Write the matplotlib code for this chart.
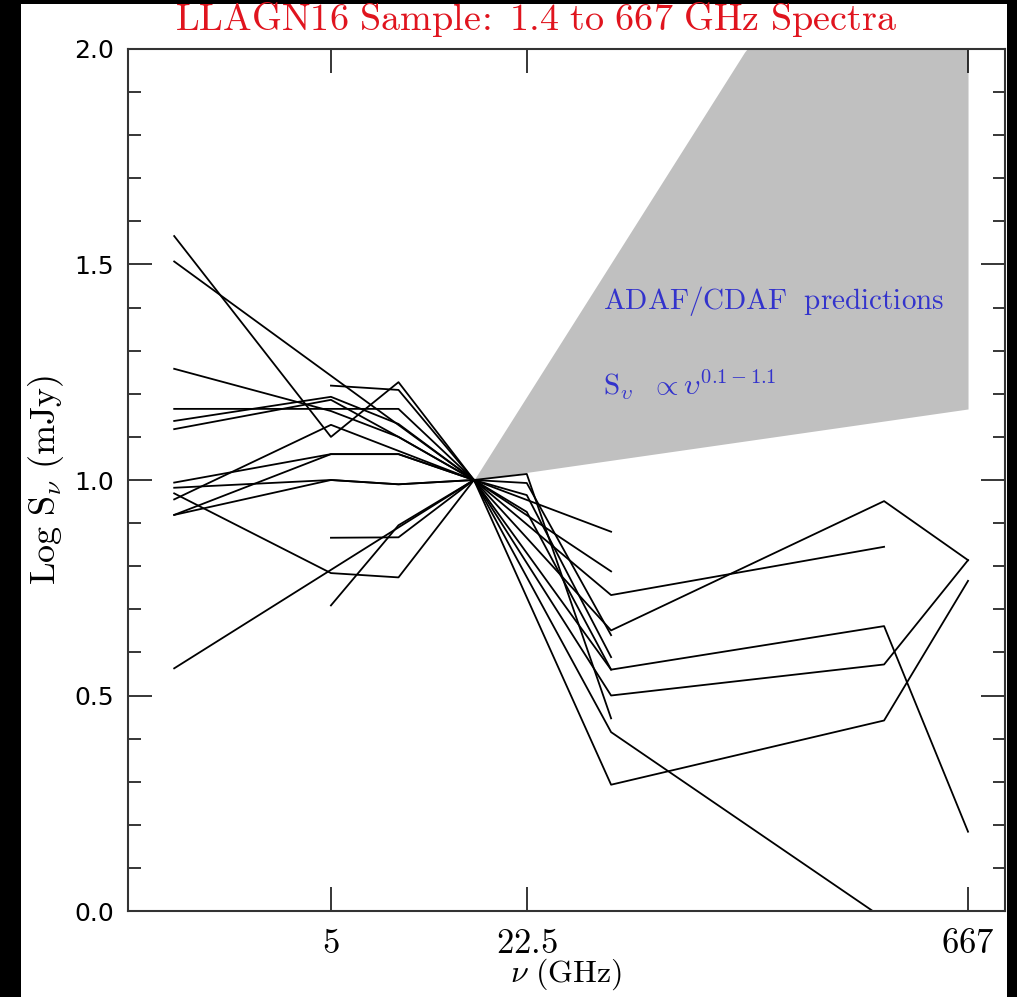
import numpy as np
import matplotlib.pyplot as plt
from matplotlib.patches import Rectangle

plt.rcParams['mathtext.fontset'] = 'cm'

# Observing frequencies (GHz)
freq = np.array([1.5, 5.0, 8.4, 15.0, 22.5, 43.0, 350.0, 667.0])

# Log flux density (mJy), normalised to 10 mJy at 15 GHz; nan = no measurement
nan = np.nan
spec_01 = [1.566, 1.100, 1.227, 1.0, nan, 0.880, nan, nan]
spec_02 = [1.507, nan, nan, 1.0, nan, 0.788, nan, nan]
spec_03 = [1.258, 1.160, 1.100, 1.0, nan, 0.733, 0.845, nan]
spec_04 = [1.165, 1.165, 1.165, 1.0, nan, 0.651, 0.951, 0.814]
spec_05 = [1.137, 1.193, 1.130, 1.0, 0.993, 0.640, nan, nan]
spec_06 = [1.118, 1.186, 1.100, 1.0, 0.965, 0.589, nan, nan]
spec_07 = [nan, 1.219, 1.209, 1.0, nan, 0.560, 0.661, 0.184]
spec_08 = [0.994, 1.060, 1.060, 1.0, nan, 0.500, 0.572, 0.814]
spec_09 = [0.982, 1.000, 0.990, 1.0, 1.014, 0.447, nan, nan]
spec_10 = [0.969, 0.784, 0.774, 1.0, nan, 0.415, -0.018, nan]
spec_11 = [0.955, 1.128, nan, 1.0, nan, 0.293, 0.442, 0.766]
spec_12 = [0.919, 1.060, 1.060, 1.0, 0.926, 0.560, nan, nan]
spec_13 = [0.919, 1.000, 0.990, 1.0, nan, nan, nan, nan]
spec_14 = [0.563, nan, nan, 1.0, nan, nan, nan, nan]
spec_15 = [nan, 0.866, 0.867, 1.0, nan, nan, nan, nan]
spec_16 = [nan, 0.709, 0.895, 1.0, nan, nan, nan, nan]
spectra = [spec_01, spec_02, spec_03, spec_04, spec_05, spec_06, spec_07, spec_08,
           spec_09, spec_10, spec_11, spec_12, spec_13, spec_14, spec_15, spec_16]

# ADAF/CDAF band: S ~ nu^(0.1 - 1.1), anchored at 15 GHz
band_slopes = [0.1, 1.1]
band_freq = np.geomspace(15.0, 667.0, 200)

fig = plt.figure(figsize=(10.17, 9.97), dpi=100, facecolor='black')
fig.patches.append(Rectangle((21 / 1017, 0), 986 / 1017, 993 / 997,
                             transform=fig.transFigure, facecolor='white',
                             edgecolor='none', zorder=-10))
ax = fig.add_axes([128 / 1017, 1 - 911 / 997, 877 / 1017, 862 / 997])
ax.set_facecolor('white')

lo = 1.0 + band_slopes[0] * np.log10(band_freq / 15.0)
hi = 1.0 + band_slopes[1] * np.log10(band_freq / 15.0)
ax.fill_between(band_freq, lo, np.minimum(hi, 2.0), color='#c0c0c0', lw=0, zorder=1)

for s in spectra:
    s = np.array(s, dtype=float)
    ok = ~np.isnan(s)
    ax.plot(freq[ok], s[ok], color='black', lw=1.3, zorder=2)

ax.set_xscale('log')
ax.set_xlim(1.052, 886)
ax.set_ylim(0, 2)
ax.set_xticks([5, 22.5, 667])
ax.set_xticklabels([r'$\mathrm{5}$', r'$\mathrm{22.5}$', r'$\mathrm{667}$'])
ax.xaxis.set_minor_locator(plt.NullLocator())
ax.set_yticks([0.0, 0.5, 1.0, 1.5, 2.0])
ax.set_yticklabels(['0.0', '0.5', '1.0', '1.5', '2.0'])
ax.set_yticks(np.arange(0, 2.01, 0.1), minor=True)
ax.tick_params(axis='both', which='major', direction='in', top=True, right=True,
               length=17, width=1.1)
ax.tick_params(axis='y', which='major', labelsize=18, pad=10)
ax.tick_params(axis='x', which='major', labelsize=25, pad=11)
ax.tick_params(axis='y', which='minor', direction='in', right=True, length=9, width=1.1)
for sp in ax.spines.values():
    sp.set_linewidth(1.5)
    sp.set_color('#333333')

ax.set_xlabel(r'$\nu\ \mathrm{(GHz)}$', fontsize=23, labelpad=-3)
ax.set_ylabel(r'$\mathrm{Log\ S}_{\nu}\ \mathrm{(mJy)}$', fontsize=26, labelpad=6)
fig.text(0.527, 0.980, r'$\mathrm{LLAGN16\ Sample\!:\ 1.4\ to\ 667\ GHz\ Spectra}$',
         color='#e0141e', fontsize=27.5, ha='center', va='center')
ax.text(40.4, 1.415, r'$\mathrm{ADAF/CDAF\ \ predictions}$', color='#3333cc',
        fontsize=21, ha='left', va='center')
ax.text(40.4, 1.22, r'$\mathrm{S}_{\upsilon}\ \ \propto \upsilon^{0.1-1.1}$', color='#3333cc',
        fontsize=21, ha='left', va='center')

fig.savefig('out.png', dpi=100, facecolor=fig.get_facecolor())
